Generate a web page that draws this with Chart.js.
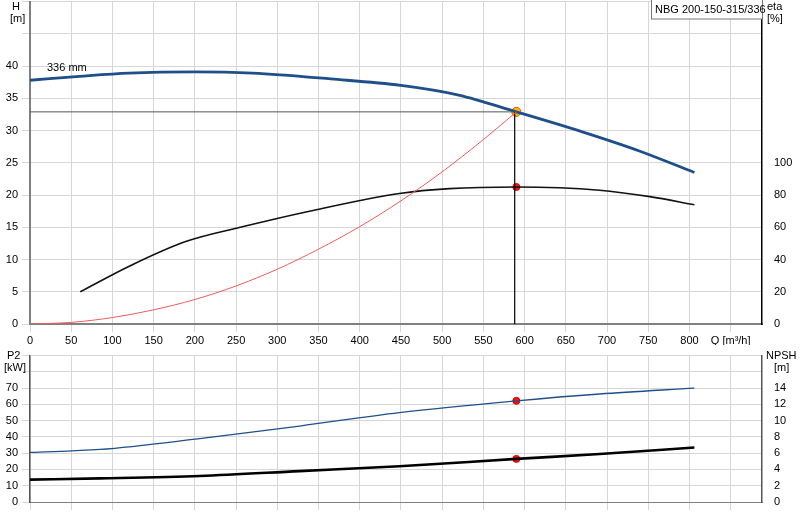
<!DOCTYPE html>
<html>
<head>
<meta charset="utf-8">
<script src="https://cdn.jsdelivr.net/npm/chart.js@4"></script>
<style>
  body { margin: 0; background: #fff; overflow: hidden; }
  #top { position: absolute; left: 0; top: -9px; }
  #bot { position: absolute; left: 0; top: 345px; }
</style>
</head>
<body>
<canvas id="top" width="800" height="354"></canvas>
<canvas id="bot" width="800" height="175"></canvas>
<script>
// pump curve 336 mm
const qH = [0, 60, 120, 200, 270, 365, 450, 520, 590, 670, 740, 806];
const head = [37.8, 38.4, 38.9, 39.1, 38.9, 38.0, 37.0, 35.5, 32.9, 29.8, 26.8, 23.5];

const qEta = [61, 121, 188, 255, 339, 448, 509, 590, 691, 752, 806];
const eta = [20, 36, 51, 60, 70, 81, 84, 85, 83, 79, 74];

// system curve
const qSys = [0, 50, 100, 150, 200, 250, 300, 350, 400, 450, 500, 550, 590];
const hSys = [0, 0.25, 1.0, 2.2, 3.8, 5.9, 8.5, 11.6, 15.1, 19.1, 23.6, 28.6, 32.9];

const qLow = [0, 85, 206, 327, 448, 590, 691, 806];
const p2 = [30.5, 32.3, 39, 46.7, 55, 62.2, 66.4, 70];
const npsh = [2.75, 2.9, 3.2, 3.8, 4.4, 5.3, 5.9, 6.7];

const dutyQ = 590, dutyH = 32.9, dutyEta = 85, dutyP2 = 62.2, dutyNpsh = 5.3;

const font = { family: "Liberation Sans, Arial", size: 11 };
const grid = "#d6d6d6";

function pts(xs, ys) {
  return xs.map((x, i) => ({ x: x, y: ys[i] }));
}

function fixW(w) { return function (s) { s.width = w; }; }
function fixH(h) { return function (s) { s.height = h; }; }

const labels = {
  id: "labels",
  afterDraw(chart, args, opts) {
    const c = chart.ctx;
    const dy = opts.dy || 0;
    c.save();
    c.font = "11px Liberation Sans, Arial";
    c.fillStyle = "#000";
    opts.items.forEach(t => {
      c.textAlign = t.align || "left";
      c.fillText(t.text, t.x, t.y + dy);
    });
    if (opts.box) {
      c.strokeStyle = "#777";
      c.fillStyle = "#fff";
      c.fillRect(651, dy, 111, 19);
      c.strokeRect(651.5, dy - 1, 111, 20);
      c.fillStyle = "#000";
      c.textAlign = "left";
      c.fillText("NBG 200-150-315/336", 655, dy + 13);
    }
    c.restore();
  }
};

function qTicks(s) {
  s.ticks = [];
  for (let v = 0; v <= 850; v += 50) s.ticks.push({ value: v });
}

new Chart(document.getElementById("top"), {
  type: "scatter",
  data: {
    datasets: [
      { data: pts(qSys, hSys), yAxisID: "y", borderColor: "#f05a5a", borderWidth: 1 },
      { data: [{ x: 0, y: dutyH }, { x: dutyQ, y: dutyH }], yAxisID: "y", borderColor: "#555", borderWidth: 1, tension: 0 },
      { data: [{ x: dutyQ - 2, y: dutyH }, { x: dutyQ - 2, y: 0 }], yAxisID: "y", borderColor: "#000", borderWidth: 1.2, tension: 0 },
      { data: pts(qEta, eta), yAxisID: "y2", borderColor: "#111", borderWidth: 1.6 },
      { data: pts(qH, head), yAxisID: "y", borderColor: "#1f4f8a", borderWidth: 2.8 },
      { data: [{ x: dutyQ, y: dutyEta }], yAxisID: "y2", showLine: false, pointRadius: 3.5, pointBackgroundColor: "#ff1010", pointBorderColor: "#d00000" },
      { data: [{ x: dutyQ, y: dutyH }], yAxisID: "y", showLine: false, pointRadius: 4.5, pointBackgroundColor: "#ffc000", pointBorderColor: "#e05000" }
    ]
  },
  options: {
    responsive: false, animation: false,
    layout: { padding: 0 },
    elements: { line: { cubicInterpolationMode: "monotone" }, point: { radius: 0 } },
    showLine: true,
    plugins: {
      legend: { display: false }, tooltip: { enabled: false },
      labels: {
        dy: 9,
        items: [
          { text: "H", x: 12, y: 10 }, { text: "[m]", x: 10, y: 22 },
          { text: "eta", x: 767, y: 10 }, { text: "[%]", x: 767, y: 22 },
          { text: "336 mm", x: 47, y: 71 }
        ],
        box: true
      }
    },
    scales: {
      x: {
        type: "linear", min: 0, max: 888,
        afterFit: fixH(21),
        border: { color: "#808080", width: 2 },
        grid: { color: grid },
        ticks: {
          color: "#000", font: font, padding: 2, autoSkip: false, maxRotation: 0, minRotation: 0,
          callback: v => v <= 800 ? v : (v === 850 ? "Q [m³/h]" : "")
        },
        afterBuildTicks: qTicks
      },
      y: {
        position: "left", min: 0, max: 50, afterFit: fixW(30),
        border: { color: "#808080", width: 2 },
        grid: { color: grid },
        ticks: { stepSize: 5, color: "#000", font: font, padding: 4, callback: v => v <= 40 ? v : "" }
      },
      y2: {
        position: "right", min: 0, max: 200, afterFit: fixW(38),
        border: { color: "#000", width: 1.5 },
        grid: { display: false },
        ticks: { stepSize: 20, color: "#000", font: font, padding: 4, callback: v => v <= 100 ? v : "" }
      }
    }
  },
  plugins: [labels]
});

new Chart(document.getElementById("bot"), {
  type: "scatter",
  data: {
    datasets: [
      { data: pts(qLow, p2), yAxisID: "y", borderColor: "#1f4f8a", borderWidth: 1.3 },
      { data: pts(qLow, npsh), yAxisID: "y2", borderColor: "#000", borderWidth: 2.6 },
      { data: [{ x: dutyQ, y: dutyP2 }], yAxisID: "y", showLine: false, pointRadius: 3.5, pointBackgroundColor: "#ff1010", pointBorderColor: "#d00000" },
      { data: [{ x: dutyQ, y: dutyNpsh }], yAxisID: "y2", showLine: false, pointRadius: 3.5, pointBackgroundColor: "#ff1010", pointBorderColor: "#d00000" }
    ]
  },
  options: {
    responsive: false, animation: false,
    layout: { padding: { top: 3, left: 0, right: 0, bottom: 0 } },
    elements: { line: { cubicInterpolationMode: "monotone" }, point: { radius: 0 } },
    showLine: true,
    plugins: {
      legend: { display: false }, tooltip: { enabled: false },
      labels: {
        items: [
          { text: "P2", x: 7, y: 14 }, { text: "[kW]", x: 4, y: 26 },
          { text: "NPSH", x: 766, y: 14 }, { text: "[m]", x: 774, y: 26 }
        ]
      }
    },
    scales: {
      x: {
        type: "linear", min: 0, max: 888, afterFit: fixH(18),
        border: { color: "#808080", width: 1 },
        grid: { color: grid },
        ticks: { display: false },
        afterBuildTicks: qTicks
      },
      y: {
        position: "left", min: 0, max: 90, afterFit: fixW(30),
        border: { color: "#555", width: 1.5 },
        grid: { color: grid },
        ticks: { stepSize: 10, color: "#000", font: font, padding: 4, callback: v => v <= 70 ? v : "" }
      },
      y2: {
        position: "right", min: 0, max: 18, afterFit: fixW(38),
        border: { color: "#555", width: 1.5 },
        grid: { display: false },
        ticks: { stepSize: 2, color: "#000", font: font, padding: 4, callback: v => v <= 14 ? v : "" }
      }
    }
  },
  plugins: [labels]
});
</script>
</body>
</html>
